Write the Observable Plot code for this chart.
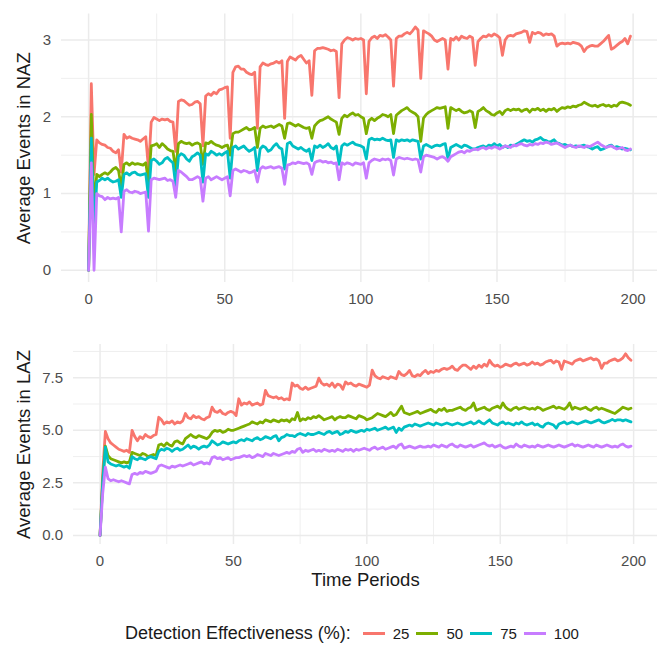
<!DOCTYPE html>
<html>
<head>
<meta charset="utf-8">
<script src="https://cdn.jsdelivr.net/npm/d3@7"></script>
<script src="https://cdn.jsdelivr.net/npm/@observablehq/plot@0.6"></script>
<style>
  html, body { margin: 0; padding: 0; background: #fff; }
  #chart { position: relative; width: 663px; height: 645px; background: #fff;
           font-family: "Liberation Sans", Arial, Helvetica, sans-serif; }
  #chart svg { position: absolute; left: 0; }
  #legend { position: absolute; left: 125px; top: 622px; height: 22px;
            display: flex; align-items: center; color: #1a1a1a; }
  #legend .title { font-size: 18px; margin-right: 12px; }
  #legend .key { width: 22px; height: 3px; margin-right: 8px; }
  #legend .lab { font-size: 15px; margin-right: 7px; }
</style>
</head>
<body>
<div id="chart"><div id="legend"></div></div>
<script>
// Detection effectiveness levels and their colours
const levels = ["25", "50", "75", "100"];
const colors = ["#F8766D", "#7CAE00", "#00BFC4", "#C77CFF"];

// Time periods 0..199
const periods = d3.range(0, 200);

// Average events in NAZ, one array per effectiveness level
const naz25 = [
  0, 2.43, 1.25, 1.70, 1.66, 1.64, 1.63, 1.60, 1.59, 1.55,
  1.53, 1.57, 1.28, 1.77, 1.72, 1.74, 1.72, 1.71, 1.70, 1.68,
  1.71, 1.74, 1.32, 1.93, 1.99, 1.97, 1.95, 1.97, 1.96, 1.97,
  1.94, 1.93, 1.55, 2.20, 2.22, 2.21, 2.18, 2.15, 2.16, 2.19,
  2.20, 2.17, 1.62, 2.27, 2.30, 2.28, 2.32, 2.30, 2.35, 2.36,
  2.38, 2.39, 1.72, 2.58, 2.65, 2.66, 2.62, 2.62, 2.58, 2.56,
  2.55, 2.58, 1.85, 2.65, 2.70, 2.68, 2.67, 2.69, 2.70, 2.72,
  2.70, 2.73, 1.98, 2.72, 2.78, 2.76, 2.74, 2.78, 2.80, 2.75,
  2.70, 2.73, 2.28, 2.86, 2.89, 2.89, 2.90, 2.89, 2.88, 2.86,
  2.87, 2.85, 2.25, 2.95, 3.00, 3.03, 3.02, 3.00, 3.02, 3.01,
  3.02, 3.00, 2.30, 2.98, 3.03, 3.05, 3.02, 3.06, 3.05, 3.07,
  3.04, 3.00, 2.40, 3.02, 3.05, 3.05, 3.08, 3.10, 3.08, 3.12,
  3.17, 3.13, 2.50, 3.12, 3.10, 3.08, 3.05, 3.00, 2.98, 3.00,
  3.02, 3.00, 2.62, 3.02, 3.00, 3.04, 3.00, 3.05, 3.03, 3.02,
  3.05, 3.03, 2.67, 2.98, 3.02, 3.05, 3.04, 3.07, 3.05, 3.08,
  3.06, 3.03, 2.80, 3.00, 3.05, 3.06, 3.05, 3.08, 3.09, 3.10,
  3.12, 3.11, 2.97, 3.10, 3.08, 3.10, 3.09, 3.06, 3.08, 3.07,
  3.08, 3.05, 2.92, 2.95, 2.96, 2.95, 2.96, 2.95, 2.97, 2.96,
  2.95, 2.92, 2.85, 2.90, 2.92, 2.93, 2.92, 2.92, 2.95, 2.98,
  3.02, 3.06, 2.88, 2.90, 2.93, 2.96, 2.98, 3.02, 2.95, 3.05
];
const naz50 = [
  0, 2.03, 0.80, 1.25, 1.22, 1.25, 1.27, 1.25, 1.28, 1.32,
  1.34, 1.30, 1.08, 1.38, 1.40, 1.37, 1.40, 1.38, 1.39, 1.38,
  1.37, 1.40, 1.15, 1.62, 1.63, 1.65, 1.60, 1.65, 1.62, 1.58,
  1.56, 1.55, 1.30, 1.65, 1.68, 1.66, 1.65, 1.66, 1.63, 1.65,
  1.66, 1.64, 1.38, 1.66, 1.65, 1.68, 1.65, 1.63, 1.62, 1.60,
  1.62, 1.63, 1.50, 1.78, 1.80, 1.80, 1.82, 1.84, 1.86, 1.83,
  1.84, 1.86, 1.60, 1.85, 1.88, 1.86, 1.87, 1.88, 1.86, 1.88,
  1.90, 1.88, 1.72, 1.91, 1.92, 1.90, 1.88, 1.90, 1.88, 1.86,
  1.85, 1.86, 1.72, 1.88, 1.92, 1.95, 1.96, 1.98, 2.00, 1.97,
  1.95, 1.93, 1.77, 1.98, 2.02, 2.00, 2.03, 2.05, 2.02, 2.03,
  2.00, 1.98, 1.78, 1.95, 1.98, 1.95, 1.98, 2.00, 2.03, 2.02,
  2.00, 2.03, 1.78, 2.02, 2.05, 2.08, 2.10, 2.12, 2.08, 2.06,
  2.04, 2.00, 1.68, 1.98, 2.03, 2.06, 2.08, 2.10, 2.12, 2.11,
  2.12, 2.13, 1.85, 2.12, 2.10, 2.08, 2.10, 2.07, 2.05, 2.06,
  2.08, 2.06, 1.86, 2.07, 2.09, 2.12, 2.08, 2.06, 2.03, 2.02,
  2.05, 2.07, 2.03, 2.08, 2.10, 2.08, 2.10, 2.09, 2.10, 2.07,
  2.09, 2.10, 2.06, 2.10, 2.09, 2.11, 2.08, 2.10, 2.07, 2.10,
  2.09, 2.11, 2.07, 2.10, 2.12, 2.11, 2.13, 2.12, 2.14, 2.13,
  2.15, 2.16, 2.19, 2.17, 2.15, 2.14, 2.15, 2.13, 2.15, 2.16,
  2.14, 2.15, 2.13, 2.15, 2.14, 2.18, 2.19, 2.18, 2.17, 2.15
];
const naz75 = [
  0, 1.72, 0.50, 1.15, 1.17, 1.20, 1.18, 1.20, 1.17, 1.15,
  1.16, 1.18, 0.95, 1.25, 1.27, 1.24, 1.27, 1.28, 1.25, 1.24,
  1.25, 1.26, 0.95, 1.43, 1.45, 1.42, 1.38, 1.40, 1.45, 1.47,
  1.43, 1.40, 1.10, 1.48, 1.52, 1.50, 1.45, 1.42, 1.48, 1.50,
  1.53, 1.50, 1.15, 1.52, 1.50, 1.55, 1.53, 1.50, 1.52, 1.50,
  1.53, 1.55, 1.20, 1.60, 1.62, 1.58, 1.60, 1.62, 1.58, 1.55,
  1.57, 1.60, 1.30, 1.58, 1.62, 1.60, 1.55, 1.57, 1.62, 1.65,
  1.60, 1.58, 1.32, 1.65, 1.67, 1.62, 1.60, 1.58, 1.60, 1.57,
  1.55, 1.58, 1.43, 1.62, 1.60, 1.63, 1.60, 1.62, 1.65, 1.60,
  1.58, 1.62, 1.38, 1.62, 1.65, 1.63, 1.65, 1.67, 1.64, 1.63,
  1.62, 1.60, 1.45, 1.70, 1.72, 1.70, 1.71, 1.70, 1.72, 1.70,
  1.69, 1.70, 1.47, 1.70, 1.68, 1.70, 1.69, 1.70, 1.68, 1.70,
  1.69, 1.68, 1.45, 1.62, 1.64, 1.62, 1.60, 1.62, 1.63, 1.62,
  1.64, 1.65, 1.45, 1.60, 1.62, 1.64, 1.62, 1.60, 1.63, 1.62,
  1.60, 1.58, 1.58, 1.60, 1.61, 1.62, 1.60, 1.63, 1.62, 1.65,
  1.62, 1.64, 1.60, 1.62, 1.60, 1.63, 1.62, 1.64, 1.66, 1.68,
  1.70, 1.68, 1.69, 1.67, 1.70, 1.71, 1.73, 1.70, 1.69, 1.67,
  1.68, 1.70, 1.66, 1.65, 1.63, 1.64, 1.62, 1.63, 1.61, 1.62,
  1.61, 1.62, 1.63, 1.61, 1.60, 1.58, 1.60, 1.61, 1.57, 1.58,
  1.60, 1.62, 1.63, 1.60, 1.61, 1.60, 1.58, 1.59, 1.58, 1.57
];
const naz100 = [
  0, 1.40, 0, 1.00, 0.97, 0.96, 0.92, 0.95, 0.93, 0.94,
  0.93, 0.95, 0.50, 1.03, 1.05, 1.02, 1.01, 1.03, 1.02, 1.00,
  1.01, 1.02, 0.51, 1.18, 1.20, 1.19, 1.18, 1.19, 1.20, 1.17,
  1.18, 1.16, 0.95, 1.30, 1.28, 1.25, 1.22, 1.18, 1.18, 1.20,
  1.22, 1.20, 0.90, 1.20, 1.22, 1.18, 1.20, 1.22, 1.20, 1.18,
  1.20, 1.22, 0.97, 1.30, 1.32, 1.30, 1.28, 1.30, 1.29, 1.27,
  1.28, 1.30, 1.15, 1.32, 1.35, 1.33, 1.34, 1.35, 1.33, 1.34,
  1.35, 1.33, 1.12, 1.37, 1.38, 1.40, 1.39, 1.41, 1.40, 1.39,
  1.40, 1.38, 1.25, 1.40, 1.42, 1.43, 1.41, 1.42, 1.40, 1.41,
  1.39, 1.40, 1.18, 1.40, 1.38, 1.40, 1.39, 1.37, 1.40, 1.39,
  1.38, 1.40, 1.20, 1.40, 1.43, 1.45, 1.44, 1.43, 1.45, 1.44,
  1.45, 1.43, 1.24, 1.45, 1.47, 1.46, 1.45, 1.46, 1.45, 1.44,
  1.45, 1.44, 1.28, 1.48, 1.50, 1.49, 1.48, 1.47, 1.45, 1.47,
  1.48, 1.46, 1.42, 1.48, 1.50, 1.52, 1.54, 1.55, 1.53, 1.56,
  1.55, 1.57, 1.58, 1.57, 1.59, 1.60, 1.58, 1.60, 1.59, 1.61,
  1.60, 1.58, 1.60, 1.62, 1.61, 1.60, 1.63, 1.62, 1.64, 1.65,
  1.63, 1.62, 1.64, 1.63, 1.65, 1.64, 1.66, 1.65, 1.67, 1.66,
  1.64, 1.65, 1.66, 1.64, 1.62, 1.60, 1.62, 1.63, 1.61, 1.60,
  1.62, 1.61, 1.60, 1.62, 1.61, 1.63, 1.65, 1.67, 1.64, 1.62,
  1.60, 1.61, 1.62, 1.60, 1.58, 1.59, 1.60, 1.57, 1.56, 1.58
];

// Average events in LAZ, one array per effectiveness level
const laz25 = [
  0, 3.00, 4.95, 4.60, 4.40, 4.30, 4.20, 4.10, 4.05, 4.00,
  4.05, 3.95, 5.00, 4.70, 4.50, 4.70, 4.60, 4.80, 4.70, 4.65,
  4.75, 4.80, 5.62, 5.50, 5.30, 5.40, 5.35, 5.45, 5.30, 5.40,
  5.35, 5.45, 5.80, 5.60, 5.55, 5.70, 5.60, 5.65, 5.55, 5.50,
  5.60, 5.65, 6.10, 5.90, 5.85, 5.95, 5.80, 5.75, 5.85, 5.90,
  5.85, 5.70, 6.50, 6.20, 6.30, 6.25, 6.35, 6.20, 6.25, 6.30,
  6.20, 6.25, 6.90, 6.65, 6.60, 6.55, 6.60, 6.50, 6.55, 6.45,
  6.50, 6.45, 7.25, 7.10, 7.15, 7.00, 6.95, 7.05, 6.95, 7.00,
  7.05, 7.10, 7.48, 7.25, 7.15, 7.20, 7.10, 7.25, 7.05, 7.20,
  7.15, 6.95, 7.30, 7.20, 7.25, 7.15, 7.10, 7.20, 7.15, 7.10,
  7.05, 7.15, 7.86, 7.60, 7.50, 7.45, 7.55, 7.50, 7.45, 7.55,
  7.50, 7.45, 7.80, 7.65, 7.60, 7.70, 7.85, 7.60, 7.55, 7.65,
  7.60, 7.75, 7.85, 7.70, 7.80, 7.75, 7.85, 7.80, 7.90, 7.95,
  7.90, 7.95, 8.05, 7.90, 7.85, 8.00, 8.10, 8.10, 8.00, 7.90,
  8.05, 7.95, 8.10, 8.00, 8.15, 8.05, 8.33, 8.15, 8.05, 8.10,
  8.00, 8.05, 8.15, 8.10, 8.05, 8.15, 8.20, 8.10, 8.15, 8.20,
  8.10, 8.15, 8.25, 8.15, 8.20, 8.10, 8.15, 8.25, 8.30, 8.33,
  8.20, 8.30, 8.25, 7.90, 8.30, 8.25, 8.20, 8.15, 8.30, 8.35,
  8.40, 8.30, 8.35, 8.40, 8.45, 8.35, 8.40, 8.30, 7.95, 8.20,
  8.20, 8.30, 8.35, 8.40, 8.30, 8.35, 8.45, 8.64, 8.45, 8.33
];
const laz50 = [
  0, 2.60, 4.25, 3.80, 3.65, 3.60, 3.55, 3.50, 3.45, 3.50,
  3.45, 3.50, 3.95, 3.90, 3.85, 3.80, 3.90, 3.85, 3.75, 3.80,
  3.85, 3.80, 4.30, 4.35, 4.25, 4.40, 4.30, 4.25, 4.45, 4.50,
  4.40, 4.35, 4.60, 4.70, 4.80, 4.70, 4.65, 4.75, 4.70, 4.65,
  4.60, 4.70, 4.90, 5.00, 4.95, 5.00, 4.90, 4.95, 5.05, 5.00,
  5.00, 5.05, 5.10, 5.15, 5.20, 5.25, 5.30, 5.40, 5.35, 5.30,
  5.40, 5.35, 5.50, 5.45, 5.40, 5.50, 5.45, 5.40, 5.50, 5.45,
  5.50, 5.40, 5.55, 5.50, 5.85, 5.45, 5.55, 5.50, 5.60, 5.55,
  5.65, 5.60, 5.70, 5.60, 5.50, 5.55, 5.60, 5.65, 5.50, 5.60,
  5.65, 5.60, 5.60, 5.70, 5.65, 5.60, 5.55, 5.70, 5.65, 5.60,
  5.50, 5.55, 5.60, 5.70, 5.80, 5.75, 5.70, 5.65, 5.75, 5.85,
  5.70, 5.75, 5.95, 6.15, 5.85, 5.80, 5.75, 5.80, 5.85, 5.90,
  5.80, 5.85, 5.90, 5.95, 6.00, 5.90, 5.85, 6.00, 5.95, 6.05,
  5.90, 5.95, 5.95, 6.00, 6.05, 6.10, 6.00, 5.95, 6.05, 6.10,
  6.30, 5.95, 6.00, 6.05, 6.10, 6.00, 5.95, 6.05, 6.10, 6.15,
  6.05, 6.30, 6.10, 6.00, 5.95, 6.05, 6.10, 6.00, 6.05, 6.10,
  6.05, 6.00, 6.05, 6.00, 6.10, 6.05, 5.95, 6.00, 6.05, 6.10,
  6.15, 6.05, 6.10, 6.05, 6.00, 6.10, 6.30, 6.00, 6.10, 6.05,
  6.00, 6.05, 6.10, 6.00, 5.95, 6.05, 6.10, 6.00, 6.05, 6.00,
  5.95, 5.90, 5.85, 5.80, 5.90, 6.00, 6.10, 6.05, 6.00, 6.05
];
const laz75 = [
  0, 2.50, 4.20, 3.50, 3.40, 3.35, 3.30, 3.35, 3.30, 3.25,
  3.30, 3.20, 3.75, 3.65, 3.60, 3.70, 3.65, 3.60, 3.70, 3.75,
  3.70, 3.65, 4.00, 4.10, 4.05, 4.15, 4.10, 4.00, 4.10, 4.15,
  4.05, 4.10, 4.20, 4.30, 4.15, 4.25, 4.20, 4.10, 4.20, 4.25,
  4.20, 4.30, 4.50, 4.40, 4.30, 4.35, 4.45, 4.40, 4.35, 4.40,
  4.45, 4.40, 4.50, 4.55, 4.50, 4.60, 4.55, 4.50, 4.60, 4.65,
  4.55, 4.60, 4.70, 4.65, 4.60, 4.70, 4.75, 4.50, 4.65, 4.70,
  4.80, 4.75, 4.75, 4.70, 4.80, 4.85, 4.80, 4.75, 4.85, 4.80,
  4.80, 4.85, 4.90, 4.85, 4.80, 4.90, 4.95, 4.85, 4.90, 4.95,
  4.80, 4.85, 4.95, 4.90, 5.00, 4.95, 4.90, 4.95, 5.00, 4.95,
  5.05, 5.00, 5.05, 5.10, 5.00, 5.05, 5.10, 5.15, 5.05, 5.10,
  5.15, 4.90, 5.10, 5.00, 5.15, 5.20, 5.25, 5.20, 5.30, 5.25,
  5.20, 5.25, 5.30, 5.35, 5.30, 5.25, 5.35, 5.30, 5.25, 5.30,
  5.35, 5.30, 5.25, 5.30, 5.35, 5.30, 5.25, 5.30, 5.35, 5.40,
  5.30, 5.35, 5.45, 5.35, 5.30, 5.40, 5.50, 5.35, 5.30, 5.25,
  5.35, 5.40, 5.30, 5.35, 5.30, 5.25, 5.35, 5.30, 5.40, 5.30,
  5.25, 5.30, 5.35, 5.25, 5.30, 5.20, 5.15, 5.30, 5.35, 5.30,
  5.25, 5.10, 5.30, 5.35, 5.40, 5.30, 5.35, 5.40, 5.35, 5.30,
  5.35, 5.40, 5.45, 5.40, 5.35, 5.40, 5.45, 5.50, 5.40, 5.35,
  5.40, 5.45, 5.52, 5.45, 5.50, 5.50, 5.45, 5.50, 5.45, 5.40
];
const laz100 = [
  0, 2.00, 3.25, 2.70, 2.60, 2.65, 2.60, 2.55, 2.60, 2.55,
  2.50, 2.45, 2.90, 2.95, 2.90, 3.00, 2.95, 3.05, 3.00, 2.95,
  3.00, 3.05, 3.30, 3.35, 3.30, 3.25, 3.20, 3.30, 3.25, 3.30,
  3.35, 3.30, 3.35, 3.40, 3.45, 3.35, 3.40, 3.45, 3.50, 3.40,
  3.45, 3.40, 3.70, 3.75, 3.65, 3.70, 3.60, 3.65, 3.70, 3.60,
  3.65, 3.70, 3.70, 3.75, 3.80, 3.75, 3.80, 3.70, 3.75, 3.85,
  3.80, 3.75, 3.90, 3.85, 3.80, 3.90, 3.85, 3.80, 3.85, 3.90,
  3.95, 3.90, 4.00, 3.95, 4.10, 4.15, 3.95, 4.05, 4.00, 4.05,
  4.10, 4.00, 4.05, 4.00, 4.10, 4.05, 4.00, 4.05, 4.00, 4.10,
  4.05, 4.00, 4.10, 4.05, 4.10, 4.00, 4.10, 4.05, 4.10, 4.15,
  4.10, 4.05, 4.15, 4.20, 4.10, 4.15, 4.20, 4.10, 4.15, 4.20,
  4.25, 4.15, 4.30, 4.35, 4.15, 4.20, 4.25, 4.20, 4.15, 4.20,
  4.25, 4.20, 4.20, 4.25, 4.20, 4.30, 4.25, 4.20, 4.30, 4.25,
  4.20, 4.30, 4.35, 4.25, 4.20, 4.30, 4.25, 4.20, 4.25, 4.30,
  4.20, 4.25, 4.30, 4.35, 4.40, 4.30, 4.25, 4.30, 4.20, 4.25,
  4.30, 4.20, 4.15, 4.20, 4.25, 4.20, 4.35, 4.25, 4.20, 4.30,
  4.25, 4.20, 4.25, 4.20, 4.30, 4.25, 4.20, 4.25, 4.30, 4.25,
  4.20, 4.25, 4.30, 4.25, 4.20, 4.25, 4.30, 4.35, 4.25, 4.30,
  4.25, 4.20, 4.25, 4.30, 4.25, 4.20, 4.30, 4.25, 4.20, 4.25,
  4.30, 4.25, 4.20, 4.25, 4.20, 4.30, 4.35, 4.25, 4.20, 4.25
];

// Axis ticks and grid positions
const xTicks = [0, 50, 100, 150, 200];
const xMinor = [25, 75, 125, 175];
const nazTicks = [0, 1, 2, 3];
const nazMinor = [0.5, 1.5, 2.5];
const lazTicks = [0, 2.5, 5, 7.5];
const lazMinor = [1.25, 3.75, 6.25, 8.75];

const FONT = "'Liberation Sans', Arial, Helvetica, sans-serif";
const GRID = "#EBEBEB";
const TICK_TEXT = "#4D4D4D";
const TITLE_TEXT = "#1a1a1a";

function tidy(series) {
  return levels.flatMap((lv, i) => series[i].map((v, k) => ({t: periods[k], v, lv})));
}

function panel({series, yDomain, yTicks, yMinor, yFormat, height, marginTop, marginBottom, marginLeft, yTitle, xTitle}) {
  const marks = [
    Plot.ruleY(yMinor, {stroke: GRID, strokeWidth: 0.8}),
    Plot.ruleX(xMinor, {stroke: GRID, strokeWidth: 0.8}),
    Plot.ruleY(yTicks, {stroke: GRID, strokeWidth: 1.5}),
    Plot.ruleX(xTicks, {stroke: GRID, strokeWidth: 1.5}),
    Plot.axisX(xTicks, {tickSize: 0, tickPadding: 10.5, fontSize: 15, fill: TICK_TEXT, label: null}),
    Plot.axisY(yTicks, {tickSize: 0, tickPadding: 10.5, fontSize: 15, fill: TICK_TEXT, label: null, tickFormat: yFormat}),
    Plot.line(tidy(series), {x: "t", y: "v", z: "lv", stroke: "lv", strokeWidth: 2.8}),
    Plot.text([yTitle], {frameAnchor: "left", textAnchor: "middle", lineAnchor: "middle", rotate: -90,
                         dx: 23.5 - marginLeft, fontSize: 18.5, fill: TITLE_TEXT})
  ];
  if (xTitle) {
    marks.push(Plot.text([xTitle], {frameAnchor: "bottom", textAnchor: "middle", lineAnchor: "middle",
                                    dy: 36, fontSize: 18.5, fill: TITLE_TEXT}));
  }
  return Plot.plot({
    width: 663, height, marginTop, marginBottom, marginLeft, marginRight: 6,
    x: {domain: [-9.95, 208.95]},
    y: {domain: yDomain},
    color: {domain: levels, range: colors},
    style: {fontFamily: FONT, background: "transparent", overflow: "visible"},
    marks
  });
}

const chart = document.getElementById("chart");

const nazPlot = panel({
  series: [naz25, naz50, naz75, naz100],
  yDomain: [-0.159, 3.339], yTicks: nazTicks, yMinor: nazMinor, yFormat: d3.format("d"),
  height: 310, marginTop: 13.5, marginBottom: 28, marginLeft: 61,
  yTitle: "Average Events in NAZ"
});
nazPlot.style.top = "0px";
chart.appendChild(nazPlot);

const lazPlot = panel({
  series: [laz25, laz50, laz75, laz100],
  yDomain: [-0.4325, 9.0825], yTicks: lazTicks, yMinor: lazMinor, yFormat: d3.format(".1f"),
  height: 290, marginTop: 34, marginBottom: 56, marginLeft: 73,
  yTitle: "Average Events in LAZ", xTitle: "Time Periods"
});
lazPlot.style.top = "310px";
chart.appendChild(lazPlot);

// Legend below the panels
const legend = d3.select("#legend");
legend.append("span").attr("class", "title").text("Detection Effectiveness (%):");
levels.forEach((lv, i) => {
  legend.append("span").attr("class", "key").style("background", colors[i]);
  legend.append("span").attr("class", "lab").text(lv);
});
</script>
</body>
</html>
